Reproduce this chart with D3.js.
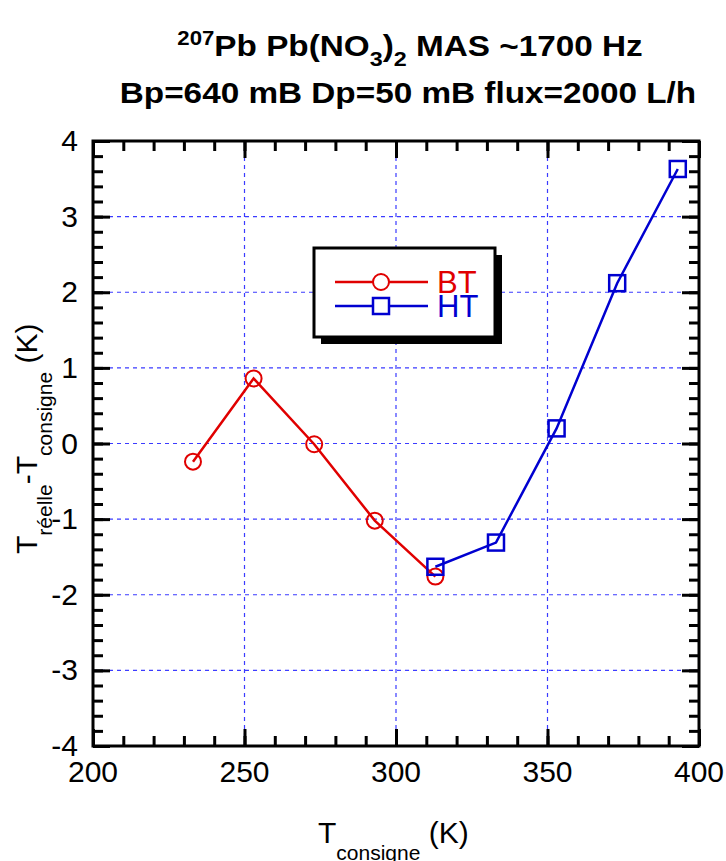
<!DOCTYPE html>
<html>
<head>
<meta charset="utf-8">
<script src="https://cdn.jsdelivr.net/npm/d3@7"></script>
<style>
  body { margin: 0; background: #fff; }
  svg { display: block; font-family: "Liberation Sans", Arial, Helvetica, sans-serif; }
</style>
</head>
<body>
<svg id="chart" width="726" height="861"></svg>
<script>
// données
const bt_temp = [233, 253, 273, 293, 313]
const bt_delta = [-0.24, 0.86, -0.01, -1.02, -1.76]
const ht_temp = [313, 333, 353, 373, 393]
const ht_delta = [-1.63, -1.31, 0.2, 2.12, 3.63]
const x_ticks = [200, 250, 300, 350, 400]
const y_ticks = [-4, -3, -2, -1, 0, 1, 2, 3, 4]

const red = '#e00000',
      blue = '#0000d0',
      grid_color = '#3b3bff'

const plot = { left: 93, right: 699, top: 141, bottom: 746 }

const svg = d3.select('#chart')

const x = d3.scaleLinear().domain([200, 400]).range([plot.left, plot.right])
const y = d3.scaleLinear().domain([-4, 4]).range([plot.bottom, plot.top])

// grille pointillée (uniquement sur les graduations majeures)
let grid = svg.append('g').attr('class', 'grid')
grid.selectAll('.gx')
    .data(x_ticks.slice(1, -1))
    .join('line')
    .attr('x1', d => x(d)).attr('x2', d => x(d))
    .attr('y1', plot.top).attr('y2', plot.bottom)
    .attr('stroke', grid_color)
    .attr('stroke-width', 1.2)
    .attr('stroke-dasharray', '4,4')
grid.selectAll('.gy')
    .data(y_ticks.slice(1, -1))
    .join('line')
    .attr('y1', d => y(d)).attr('y2', d => y(d))
    .attr('x1', plot.left).attr('x2', plot.right)
    .attr('stroke', grid_color)
    .attr('stroke-width', 1.2)
    .attr('stroke-dasharray', '4,4')

// graduations intérieures sur les quatre côtés
const major = 17, minor = 10
function innerAxis(axisGen, translate) {
    const g = svg.append('g').attr('transform', translate).call(axisGen)
    g.select('.domain').remove()
    g.selectAll('text').remove()
    g.selectAll('line').attr('stroke', '#000').attr('stroke-width', 3)
    return g
}
const x_minor = d3.range(200, 401, 10),
      y_minor = d3.range(-4, 4.01, 0.2).map(d => +d.toFixed(1))
innerAxis(d3.axisBottom(x).tickValues(x_minor).tickSize(-minor), `translate(0,${plot.bottom})`)
innerAxis(d3.axisBottom(x).tickValues(x_ticks).tickSize(-major), `translate(0,${plot.bottom})`)
innerAxis(d3.axisTop(x).tickValues(x_minor).tickSize(-minor), `translate(0,${plot.top})`)
innerAxis(d3.axisTop(x).tickValues(x_ticks).tickSize(-major), `translate(0,${plot.top})`)
innerAxis(d3.axisLeft(y).tickValues(y_minor).tickSize(-minor), `translate(${plot.left},0)`)
innerAxis(d3.axisLeft(y).tickValues(y_ticks).tickSize(-major), `translate(${plot.left},0)`)
innerAxis(d3.axisRight(y).tickValues(y_minor).tickSize(-minor), `translate(${plot.right},0)`)
innerAxis(d3.axisRight(y).tickValues(y_ticks).tickSize(-major), `translate(${plot.right},0)`)

// cadre
svg.append('rect')
   .attr('x', plot.left).attr('y', plot.top)
   .attr('width', plot.right - plot.left).attr('height', plot.bottom - plot.top)
   .attr('fill', 'none').attr('stroke', '#000').attr('stroke-width', 3)

// libellés des graduations
svg.append('g').selectAll('text')
   .data(x_ticks)
   .join('text')
   .attr('x', d => x(d)).attr('y', 782)
   .attr('text-anchor', 'middle')
   .attr('font-size', 30)
   .text(d => d)
svg.append('g').selectAll('text')
   .data(y_ticks)
   .join('text')
   .attr('x', 78).attr('y', d => y(d) + 10)
   .attr('text-anchor', 'end')
   .attr('font-size', 30)
   .text(d => d)

// courbes
const bt = bt_temp.map((t, i) => [t, bt_delta[i]]),
      ht = ht_temp.map((t, i) => [t, ht_delta[i]])
const line = d3.line().x(d => x(d[0])).y(d => y(d[1]))

svg.append('path').datum(bt)
   .attr('d', line).attr('fill', 'none')
   .attr('stroke', red).attr('stroke-width', 2.5)
svg.append('g').selectAll('circle')
   .data(bt)
   .join('circle')
   .attr('cx', d => x(d[0])).attr('cy', d => y(d[1]))
   .attr('r', 8)
   .attr('fill', 'none').attr('stroke', red).attr('stroke-width', 2)

svg.append('path').datum(ht)
   .attr('d', line).attr('fill', 'none')
   .attr('stroke', blue).attr('stroke-width', 2.5)
svg.append('g').selectAll('rect')
   .data(ht)
   .join('rect')
   .attr('x', d => x(d[0]) - 8).attr('y', d => y(d[1]) - 8)
   .attr('width', 16).attr('height', 16)
   .attr('fill', 'none').attr('stroke', blue).attr('stroke-width', 2.5)

// légende avec ombre
let legend = svg.append('g').attr('class', 'legend')
legend.append('rect')
      .attr('x', 321).attr('y', 255).attr('width', 181).attr('height', 89)
      .attr('fill', '#000')
legend.append('rect')
      .attr('x', 314).attr('y', 248).attr('width', 181).attr('height', 89)
      .attr('fill', '#fff').attr('stroke', '#000').attr('stroke-width', 3)
const legend_items = [
    { name: 'BT', color: red, shape: 'circle', y: 282 },
    { name: 'HT', color: blue, shape: 'square', y: 306 },
]
legend_items.forEach(item => {
    legend.append('line')
          .attr('x1', 335).attr('x2', 428)
          .attr('y1', item.y).attr('y2', item.y)
          .attr('stroke', item.color).attr('stroke-width', 2.5)
    if (item.shape === 'circle') {
        legend.append('circle')
              .attr('cx', 381).attr('cy', item.y).attr('r', 8)
              .attr('fill', '#fff').attr('stroke', item.color).attr('stroke-width', 2)
    } else {
        legend.append('rect')
              .attr('x', 373).attr('y', item.y - 8).attr('width', 16).attr('height', 16)
              .attr('fill', '#fff').attr('stroke', item.color).attr('stroke-width', 2.5)
    }
    legend.append('text')
          .attr('x', 437).attr('y', item.y + 11)
          .attr('font-size', 31)
          .attr('fill', item.color)
          .text(item.name)
})

// titre (police étirée horizontalement comme dans l'original)
let title1 = svg.append('text')
                .attr('transform', 'translate(410,56) scale(1.11,1)')
                .attr('text-anchor', 'middle')
                .attr('font-weight', 'bold')
                .attr('font-size', 30)
title1.append('tspan').attr('font-size', 20).attr('dy', -11).text('207')
title1.append('tspan').attr('dy', 11).text('Pb Pb(NO')
title1.append('tspan').attr('font-size', 21).attr('dy', 10).text('3')
title1.append('tspan').attr('dy', -10).text(')')
title1.append('tspan').attr('font-size', 21).attr('dy', 10).text('2')
title1.append('tspan').attr('dy', -10).text(' MAS ~1700 Hz')

svg.append('text')
   .attr('transform', 'translate(408,103) scale(1.11,1)')
   .attr('text-anchor', 'middle')
   .attr('font-weight', 'bold')
   .attr('font-size', 30)
   .text('Bp=640 mB Dp=50 mB flux=2000 L/h')

// titres des axes
let xlabel = svg.append('text')
                .attr('x', 318).attr('y', 843)
                .attr('font-size', 30)
xlabel.append('tspan').text('T')
xlabel.append('tspan').attr('font-size', 21).attr('dy', 17).text('consigne')
xlabel.append('tspan').attr('dy', -17).text(' (K)')

let ylabel = svg.append('text')
                .attr('transform', 'translate(37,554) rotate(-90)')
                .attr('font-size', 30)
ylabel.append('tspan').text('T')
ylabel.append('tspan').attr('font-size', 21).attr('dy', 15).text('réelle')
ylabel.append('tspan').attr('dy', -15).text('-T')
ylabel.append('tspan').attr('font-size', 21).attr('dy', 15).text('consigne')
ylabel.append('tspan').attr('dy', -15).text(' (K)')
</script>
</body>
</html>
